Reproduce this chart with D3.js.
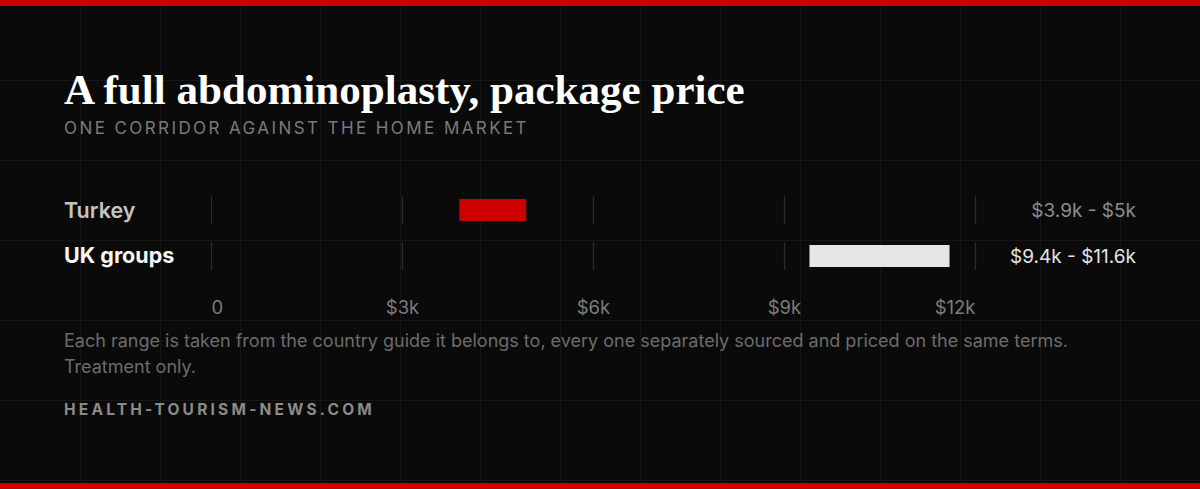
<!DOCTYPE html>
<html>
<head>
<meta charset="utf-8">
<script src="https://cdn.jsdelivr.net/npm/d3@7"></script>
<style>
  html, body { margin: 0; padding: 0; background: #0a0a0a; }
  svg { display: block; }
</style>
</head>
<body>
<svg id="chart" width="1200" height="489"></svg>
<script>
// chart values
const categories = ["Turkey", "UK groups"];
const lowValues = [3900, 9400];
const highValues = [4950, 11600];
const rangeLabels = ["$3.9k - $5k", "$9.4k - $11.6k"];
const tickValues = [0, 3000, 6000, 9000, 12000];
const tickLabels = ["0", "$3k", "$6k", "$9k", "$12k"];

const W = 1200, H = 489;
const sans = "Inter, 'Noto Sans', sans-serif";
const svg = d3.select("#chart");

svg.append("rect").attr("width", W).attr("height", H).attr("fill", "#0a0a0a");

// faint background grid
const grid = svg.append("g").attr("stroke", "#161616").attr("stroke-width", 1);
d3.range(80, W, 80).forEach(x => grid.append("line").attr("x1", x + 0.5).attr("x2", x + 0.5).attr("y1", 0).attr("y2", H));
d3.range(80, H, 80).forEach(y => grid.append("line").attr("y1", y + 0.5).attr("y2", y + 0.5).attr("x1", 0).attr("x2", W));

// red rules top and bottom
svg.append("rect").attr("x", 0).attr("y", 0).attr("width", W).attr("height", 6).attr("fill", "#cc0000");
svg.append("rect").attr("x", 0).attr("y", H - 6).attr("width", W).attr("height", 6).attr("fill", "#cc0000");

// shrink/grow a text to a target width
function fitSize(sel, width) {
  const w = sel.node().getComputedTextLength();
  const fs = parseFloat(sel.attr("font-size"));
  sel.attr("font-size", fs * width / w);
}
function fitSpacing(sel, width) {
  const t = sel.text();
  const w = sel.node().getComputedTextLength();
  const ls = parseFloat(sel.attr("letter-spacing") || 0);
  sel.attr("letter-spacing", ls + (width - w) / (t.length));
}

const title = svg.append("text").attr("x", 64).attr("y", 104)
  .attr("font-family", "'Liberation Serif', 'DejaVu Serif', serif").attr("font-weight", 700)
  .attr("font-size", 40).attr("fill", "#ffffff")
  .text("A full abdominoplasty, package price");
fitSize(title, 681);

const sub = svg.append("text").attr("x", 64).attr("y", 133.5)
  .attr("font-family", sans).attr("font-size", 17).attr("fill", "#7a7a7a")
  .attr("letter-spacing", 1.2)
  .text("ONE CORRIDOR AGAINST THE HOME MARKET");
fitSpacing(sub, 465);

// scales
const x = d3.scaleLinear().domain([0, 12000]).range([211, 975]);
const y = d3.scaleBand().domain(categories).range([196, 270]).paddingInner(0.3913);

const rows = svg.selectAll(".row").data(categories).join("g").attr("class", "row");

// short tick marks inside each row band
rows.selectAll(".tick-line").data(tickValues).join("line").attr("class", "tick-line")
  .attr("x1", d => Math.round(x(d)) + 0.5).attr("x2", d => Math.round(x(d)) + 0.5)
  .attr("y1", function() { return y(d3.select(this.parentNode).datum()); })
  .attr("y2", function() { return y(d3.select(this.parentNode).datum()) + y.bandwidth(); })
  .attr("stroke", "#2b2b2b").attr("stroke-width", 1.3);

// range bars
const barH = 22;
rows.append("rect")
  .attr("x", (d, i) => x(lowValues[i]))
  .attr("width", (d, i) => x(highValues[i]) - x(lowValues[i]))
  .attr("y", d => y(d) + (y.bandwidth() - barH) / 2)
  .attr("height", barH)
  .attr("fill", (d, i) => i === 0 ? "#cc0000" : "#e6e6e6");

// row labels
rows.append("text").attr("x", 64)
  .attr("y", d => y(d) + y.bandwidth() / 2 + 7.5)
  .attr("font-family", sans).attr("font-size", 21.5)
  .attr("font-weight", (d, i) => i === 0 ? 600 : 700)
  .attr("fill", (d, i) => i === 0 ? "#c4c4c4" : "#f7f7f7")
  .text(d => d);

// range value labels
rows.append("text").attr("x", 1136)
  .attr("y", d => y(d) + y.bandwidth() / 2 + 7)
  .attr("text-anchor", "end")
  .attr("font-family", sans).attr("font-size", 19)
  .attr("fill", (d, i) => i === 0 ? "#8c8c8c" : "#e4e4e4")
  .text((d, i) => rangeLabels[i]);

// bottom axis labels
const axis = svg.append("g").attr("transform", "translate(0,296)")
  .call(d3.axisBottom(x).tickValues(tickValues).tickSize(0).tickPadding(0)
    .tickFormat((d, i) => tickLabels[i]));
axis.select(".domain").remove();
axis.selectAll("text")
  .attr("font-family", sans).attr("font-size", 18.5).attr("fill", "#7c7c7c")
  .attr("dy", 0).attr("y", 17.5)
  .attr("text-anchor", (d, i) => i === 0 ? "start" : (i === tickValues.length - 1 ? "end" : "middle"));

// footnote
const note1 = svg.append("text").attr("x", 64).attr("y", 347)
  .attr("font-family", sans).attr("font-size", 16.5).attr("fill", "#6c6c6c")
  .text("Each range is taken from the country guide it belongs to, every one separately sourced and priced on the same terms.");
fitSize(note1, 1005);
svg.append("text").attr("x", 64).attr("y", 373)
  .attr("font-family", sans).attr("font-size", note1.attr("font-size")).attr("fill", "#6c6c6c")
  .text("Treatment only.");

const foot = svg.append("text").attr("x", 64).attr("y", 415)
  .attr("font-family", sans).attr("font-size", 15.5).attr("font-weight", 700)
  .attr("fill", "#8a8a8a").attr("letter-spacing", 2)
  .text("HEALTH-TOURISM-NEWS.COM");
fitSpacing(foot, 311);
</script>
</body>
</html>
